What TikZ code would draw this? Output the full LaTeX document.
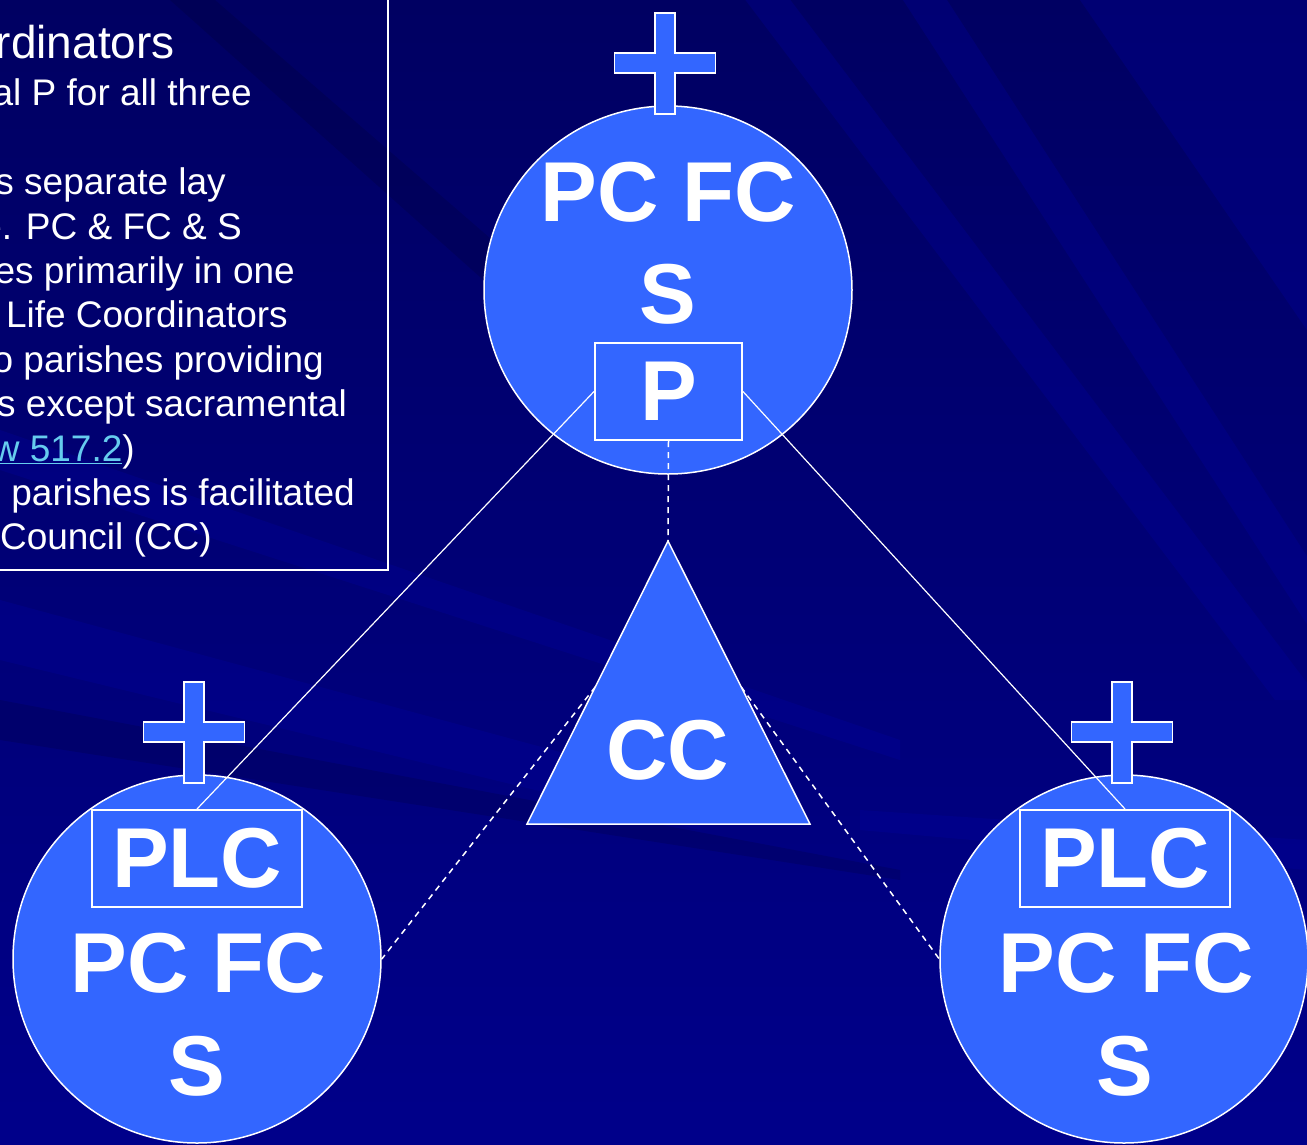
\documentclass[tikz,border=0pt]{standalone}
\usepackage{fontspec}
\setmainfont{Liberation Sans}
\usepackage{xcolor}
\usepackage{tikz}
\usetikzlibrary{calc}

\definecolor{parishblue}{HTML}{3366FF}
\definecolor{bgtop}{HTML}{000062}
\definecolor{bgbottom}{HTML}{00008A}
\definecolor{bglight}{HTML}{0000A8}
\definecolor{linkblue}{HTML}{66CCEE}

\newcommand{\bigletters}{\bfseries\fontsize{85}{102}\selectfont}
\newcommand{\notesfont}{\fontsize{37}{44.5}\selectfont}

\tikzset{
    parish/.style={circle, draw=white, fill=parishblue, line width=1.5pt, minimum size=368pt, inner sep=0pt},
    office/.style={rectangle, draw=white, fill=parishblue, line width=2pt, inner sep=0pt, text=white, font=\bigletters},
    bigtext/.style={text=white, font=\bigletters, inner sep=0pt},
    crossbar/.style={draw=white, fill=parishblue, line width=1.2pt},
    council/.style={draw=white, fill=parishblue, line width=1.5pt},
    tie/.style={draw=white, line width=1.2pt},
    loose/.style={draw=white, line width=1.5pt, dash pattern=on 6pt off 5pt},
    notes/.style={text=white, font=\notesfont, inner sep=0pt, anchor=base east},
    streak/.style={fill=bglight, opacity=0.25},
    shadow/.style={fill=black, opacity=0.12},
    parishcross/.pic={
        \draw[crossbar] (-10,0) -- (10,0) -- (10,40) -- (50.5,40) -- (50.5,60) -- (10,60) -- (10,101)
            -- (-10,101) -- (-10,60) -- (-50.5,60) -- (-50.5,40) -- (-10,40) -- cycle;
    }
}

\begin{document}
\begin{tikzpicture}[x=1pt, y=-1pt]
        \useasboundingbox (0,0) rectangle (1307,1144);
        \clip (0,0) rectangle (1307,1144);
        \shade [top color=bgtop, bottom color=bgbottom] (0,0) rectangle (1307,1144);
        \fill [streak] (903,0) -- (947,0) -- (1400,700) -- (1356,700) -- cycle;
        \fill [streak] (700,-60) -- (745,-60) -- (1320,700) -- (1275,700) -- cycle;
        \fill [streak] (1080,0) -- (1307,0) -- (1307,330) -- cycle;
        \fill [shadow] (170,0) -- (215,0) -- (700,420) -- (640,420) -- cycle;
        \fill [streak] (0,600) -- (0,660) -- (700,830) -- (700,790) -- cycle;
        \fill [streak] (0,430) -- (0,470) -- (900,760) -- (900,740) -- cycle;
        \fill [shadow] (0,700) -- (0,740) -- (900,880) -- (900,870) -- cycle;
        \fill [streak] (860,810) -- (1307,840) -- (1307,870) -- (860,830) -- cycle;

        \draw [white, line width=1.5pt] (-10,-10) rectangle (388,570);
        \node [notes, font=\fontsize{46}{50}\selectfont] (n1) at (175,58) {rdinators};
        \node [notes] (n2) at (252,105) {al P for all three};
        \node [notes] (n3) at (226,194) {s separate lay};
        \node [notes] (n4) at (242,239) {e. PC \& FC \& S};
        \node [notes] (n5) at (295,283) {es primarily in one};
        \node [notes] (n6) at (288,327) {Life Coordinators};
        \node [notes] (n7) at (324,372) {o parishes providing};
        \node [notes] (n8) at (347,416) {s except sacramental};
        \node [notes] (n9) at (135,461) {\textcolor{linkblue}{\underline{w 517.2}})};
        \node [notes] (n10) at (355,505) {parishes is facilitated};
        \node [notes] (n11) at (212,549) {Council (CC)};

        \node [parish] (t) at (668,290) {};
        \node [parish] (l) at (197,959) {};
        \node [parish] (r) at (1124,959) {};
        \pic at (665,13) {parishcross};
        \pic at (194,682) {parishcross};
        \pic at (1122,682) {parishcross};

        \node [bigtext, anchor=base] (tpcfc) at (668,221) {PC FC};
        \node [bigtext, anchor=base] (ts) at (668,323) {S};
        \node [office, minimum width=147pt, minimum height=97pt] (tp) at (668.5,391.5) {P};

        \node [office, minimum width=210pt, minimum height=97pt] (lplc) at (197,858.5) {PLC};
        \node [bigtext, anchor=base] (lpcfc) at (198,992) {PC FC};
        \node [bigtext, anchor=base] (ls) at (197,1095) {S};

        \node [office, minimum width=210pt, minimum height=97pt] (rplc) at (1125,858.5) {PLC};
        \node [bigtext, anchor=base] (rpcfc) at (1126,992) {PC FC};
        \node [bigtext, anchor=base] (rs) at (1125,1095) {S};

        \coordinate (apex) at (668,541);
        \coordinate (bl) at (527,824);
        \coordinate (br) at (810,824);
        \coordinate (lside) at ($(apex)!0.515!(bl)$);
        \coordinate (rside) at ($(apex)!0.515!(br)$);

        \draw [tie] (tp.west)--(lplc.north);
        \draw [tie] (tp.east)--(rplc.north);
        \draw [loose] (tp.south)--(apex);
        \draw [loose] (lside)--(l.east);
        \draw [loose] (rside)--(r.west);

        \draw [council] (apex)--(bl)--(br)--cycle;
        \node [bigtext] (cc) at (668,750) {CC};
\end{tikzpicture}
\end{document}
